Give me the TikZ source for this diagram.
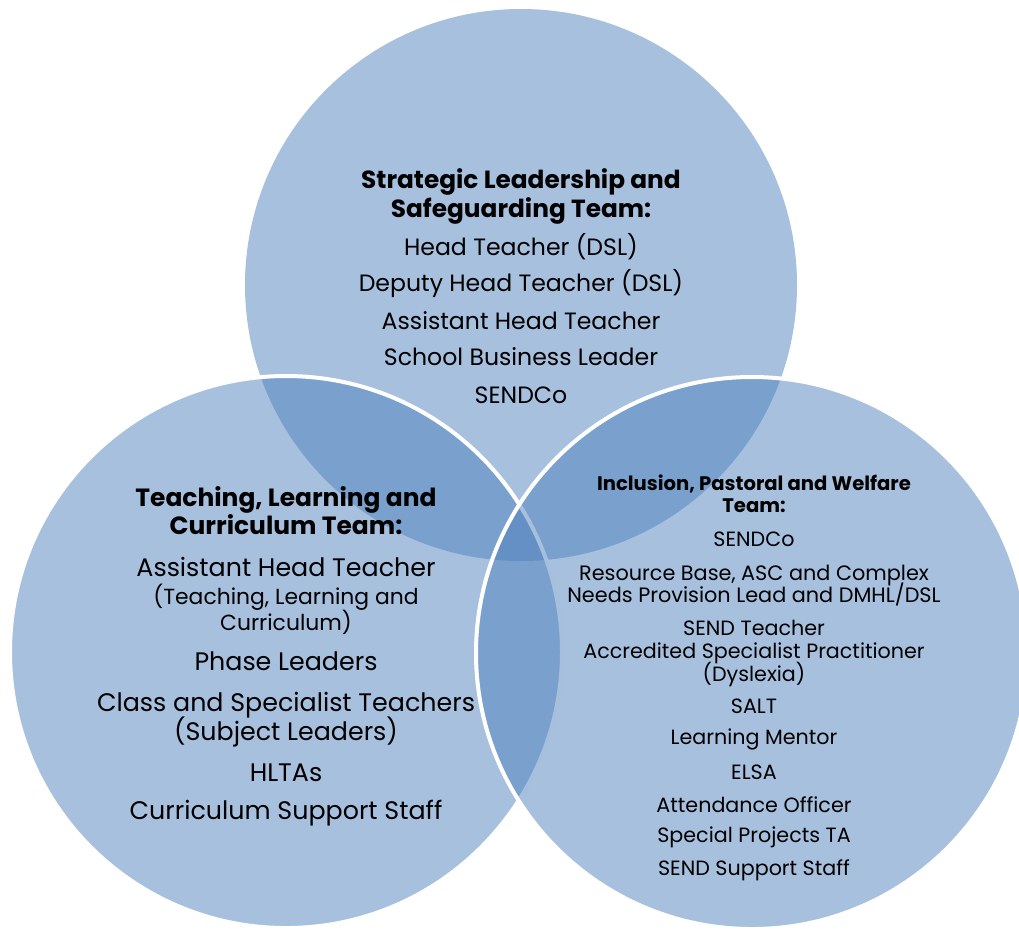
\documentclass[tikz,border=0pt]{standalone}
\usepackage{fontspec}
\setmainfont{Poppins}
\definecolor{vennblue}{HTML}{4F81BD}
\begin{document}
\begin{tikzpicture}[x=0.75pt,y=-0.75pt,
    team/.style={circle,minimum size=414pt,inner sep=0pt,fill=vennblue,fill opacity=0.5,draw=white,line width=3pt},
    head/.style 2 args={align=center,inner sep=0pt,font=\fontsize{#1}{#2}\selectfont\lineskiplimit-20pt\relax\bfseries},
    role/.style 2 args={align=center,inner sep=0pt,font=\fontsize{#1}{#2}\selectfont\lineskiplimit-20pt\relax}]
  \useasboundingbox (0,0) rectangle (1019,929);
  % the three teams
  \node[team,draw=none] (top) at (521,285) {};
  \node[team] (left) at (286,652) {};
  \node[team] (right) at (752,653) {};
  % Strategic Leadership and Safeguarding Team
  \begin{scope}[every node/.style={role={17.7}{21}}]
    \path
      (521,196) node[head={18.6}{21.75}] (top0) {Strategic Leadership and\\Safeguarding Team:}
      (521,247) node (top1) {Head Teacher (DSL)}
      (521,284) node (top2) {Deputy Head Teacher (DSL)}
      (521,321) node (top3) {Assistant Head Teacher}
      (521,357) node (top4) {School Business Leader}
      (521,395) node (top5) {SENDCo};
  \end{scope}
  % Teaching, Learning and Curriculum Team
  \begin{scope}[every node/.style={role={19}{21.75}}]
    \path
      (286,511) node[head={18.7}{21}] (left0) {Teaching, Learning and\\Curriculum Team:}
      (286,567) node (left1) {Assistant Head Teacher}
      (286,609) node[role={16.4}{19.5}] (left2) {(Teaching, Learning and\\Curriculum)}
      (286,661) node (left3) {Phase Leaders}
      (286,720) node (left4) {Class and Specialist Teachers\\(Subject Leaders)}
      (286,773) node (left5) {HLTAs}
      (286,813) node (left6) {Curriculum Support Staff};
  \end{scope}
  % Inclusion, Pastoral and Welfare Team
  \begin{scope}[every node/.style={role={15.5}{17.25}}]
    \path
      (754,494) node[head={14.7}{16.5}] (right0) {Inclusion, Pastoral and Welfare\\Team:}
      (754,539) node (right1) {SENDCo}
      (754,586) node[role={15.6}{16.5}] (right2) {Resource Base, ASC and Complex\\Needs Provision Lead and DMHL/DSL}
      (754,654) node (right3) {SEND Teacher\\Accredited Specialist Practitioner\\(Dyslexia)}
      (754,706) node (right4) {SALT}
      (754,739) node (right5) {Learning Mentor}
      (754,772) node (right6) {ELSA}
      (754,805) node (right7) {Attendance Officer}
      (754,837) node (right8) {Special Projects TA}
      (754,870) node (right9) {SEND Support Staff};
  \end{scope}
\end{tikzpicture}
\end{document}
